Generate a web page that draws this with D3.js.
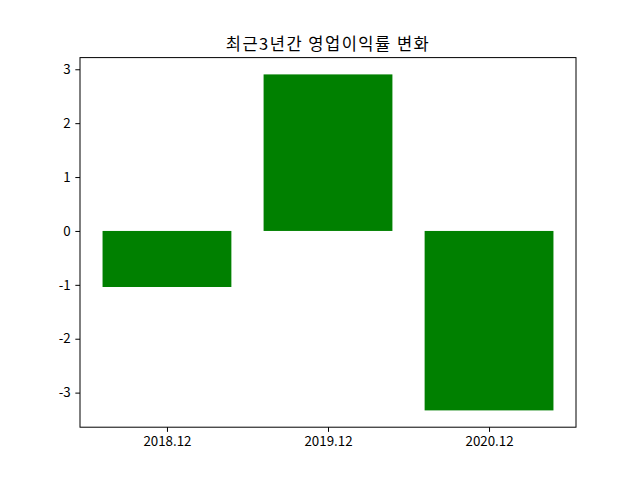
<!DOCTYPE html>
<html><head><meta charset="utf-8">
<script src="https://cdn.jsdelivr.net/npm/d3@7"></script>
<style>body{margin:0;background:#fff}svg{display:block}</style>
</head><body>
<script>
const categories = ["2018.12", "2019.12", "2020.12"];
const values = [-1.04, 2.905, -3.33];
const yTicks = [-3, -2, -1, 0, 1, 2, 3];
const title = "최근3년간 영업이익률 변화";

const W = 640, H = 480;
const L = 80, R = 576, T = 57.6, B = 427.2;
const font = "'Noto Sans CJK KR', 'Noto Sans', sans-serif";

const svg = d3.select("body").append("svg").attr("width", W).attr("height", H);

const barW = 0.8;
const xmin = -barW / 2, xmax = categories.length - 1 + barW / 2;
const xm = (xmax - xmin) * 0.05;
const x = d3.scaleLinear().domain([xmin - xm, xmax + xm]).range([L, R]);
const ymin = Math.min(0, d3.min(values)), ymax = Math.max(0, d3.max(values));
const ym = (ymax - ymin) * 0.05;
const y = d3.scaleLinear().domain([ymin - ym, ymax + ym]).range([B, T]);

svg.selectAll("rect.bar").data(values).join("rect")
  .attr("class", "bar")
  .attr("x", (d, i) => x(i - barW / 2))
  .attr("width", (d, i) => x(i + barW / 2) - x(i - barW / 2))
  .attr("y", d => y(Math.max(0, d)))
  .attr("height", d => Math.abs(y(d) - y(0)))
  .attr("fill", "#008000");

const xAxis = d3.axisBottom(x).tickValues(categories.map((c, i) => i))
  .tickFormat(i => categories[i]).tickSize(4.67).tickPadding(4.67);
const yAxis = d3.axisLeft(y).tickValues(yTicks).tickFormat(d => d < 0 ? "-" + Math.abs(d) : d)
  .tickSize(4.67).tickPadding(4.67);

const gx = svg.append("g").attr("transform", `translate(0,${B})`).call(xAxis);
const gy = svg.append("g").attr("transform", `translate(${L},0)`).call(yAxis);
[gx, gy].forEach(g => {
  g.select(".domain").remove();
  g.selectAll("line").attr("stroke", "#000").attr("stroke-width", 1);
  g.selectAll("text").attr("fill", "#000").style("font-family", font).style("font-size", "13.33px");
});

svg.append("rect").attr("x", L).attr("y", T).attr("width", R - L).attr("height", B - T)
  .attr("fill", "none").attr("stroke", "#000").attr("stroke-width", 1);

svg.append("text").attr("x", (L + R) / 2).attr("y", T - 8)
  .attr("text-anchor", "middle").style("font-family", font).style("font-size", "16.5px")
  .style("letter-spacing", "1.5px")
  .attr("fill", "#000").text(title);
</script>
</body></html>
